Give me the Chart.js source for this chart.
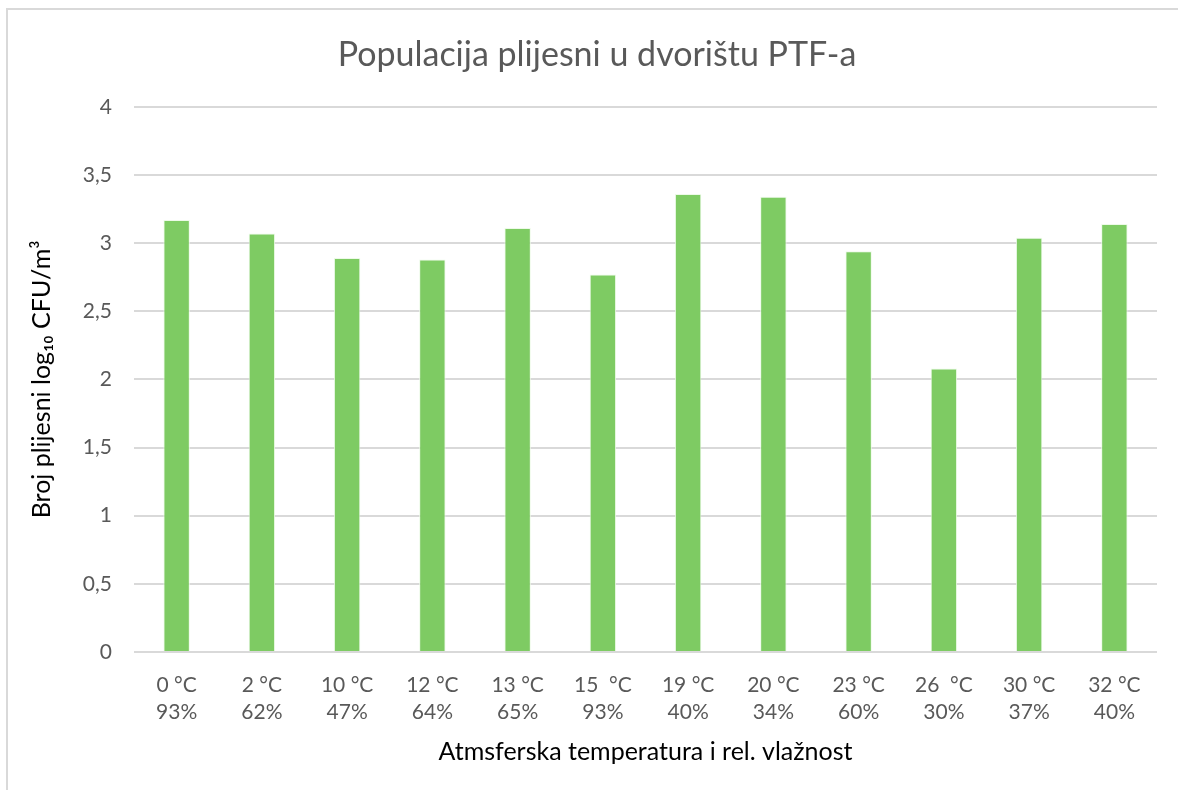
<!DOCTYPE html>
<html>
<head>
<meta charset="utf-8">
<script src="https://cdn.jsdelivr.net/npm/chart.js@4/dist/chart.umd.min.js"></script>
<style>
    html, body { margin: 0; padding: 0; background: #fff; overflow: hidden; }
    #frame {
        position: absolute;
        left: 6px;
        top: 8px;
        width: 1170px;
        height: 780px;
        border-left: 2px solid #d9d9d9;
        border-top: 2px solid #d9d9d9;
    }
    #wrap { position: absolute; left: 0; top: 0; width: 1182px; height: 794px; }
</style>
</head>
<body>
<div id="frame"></div>
<div id="wrap"><canvas id="moldChart" width="1182" height="794"></canvas></div>
<script>
const TEMPERATURES = ["0 °C", "2 °C", "10 °C", "12 °C", "13 °C", "15  °C", "19 °C", "20 °C", "23 °C", "26  °C", "30 °C", "32 °C"];
const HUMIDITY = ["93%", "62%", "47%", "64%", "65%", "93%", "40%", "34%", "60%", "30%", "37%", "40%"];
const MOLD_LOG_CFU = [3.17, 3.07, 2.89, 2.88, 3.11, 2.77, 3.36, 3.34, 2.94, 2.08, 3.04, 3.14];
const Y_TICKS = [0, 0.5, 1, 1.5, 2, 2.5, 3, 3.5, 4];

const labels = TEMPERATURES.map((t, i) => [t, HUMIDITY[i]]);
const FONT = "Lato, 'Open Sans', sans-serif";

const chart = new Chart('moldChart', {
    type: "bar",
    data: {
        labels: labels,
        datasets: [{
            data: MOLD_LOG_CFU,
            backgroundColor: "#7ecb63",
            borderColor: "rgba(235, 250, 230, 0.9)",
            borderWidth: 1,
            categoryPercentage: 0.31,
            barPercentage: 1
        }]
    },
    options: {
        responsive: false,
        animation: false,
        layout: {
            padding: {left: 37, right: 25, top: 0, bottom: 23}
        },
        plugins: {
            legend: {display: false},
            tooltip: {enabled: false},
            title: {
                display: true,
                text: "Populacija plijesni u dvorištu PTF-a",
                color: "#595959",
                font: {family: FONT, size: 34, weight: "normal"},
                padding: {top: 35, bottom: 31}
            }
        },
        scales: {
            x: {
                grid: {display: false, drawTicks: false},
                border: {display: false},
                ticks: {
                    color: "#595959",
                    font: {family: FONT, size: 21, lineHeight: 1.29},
                    padding: 20,
                    maxRotation: 0,
                    autoSkip: false
                },
                title: {
                    display: true,
                    text: "Atmsferska temperatura i rel. vlažnost",
                    color: "#000",
                    font: {family: FONT, size: 25},
                    padding: {top: 0, bottom: 4}
                },
                afterFit: scale => { scale.height = 119; }
            },
            y: {
                min: 0,
                max: 4,
                afterBuildTicks: scale => { scale.ticks = Y_TICKS.map(v => ({value: v})); },
                grid: {color: "#d9d9d9", lineWidth: 2, drawTicks: false},
                border: {display: false},
                ticks: {
                    color: "#595959",
                    font: {family: FONT, size: 21},
                    padding: 22,
                    callback: v => String(v).replace(".", ",")
                },
                title: {
                    display: true,
                    text: "Broj plijesni log₁₀ CFU/m³",
                    color: "#000",
                    font: {family: FONT, size: 25},
                    padding: {top: -10, bottom: 0}
                },
                afterFit: scale => { scale.width = 97; }
            }
        }
    }
});
</script>
</body>
</html>
